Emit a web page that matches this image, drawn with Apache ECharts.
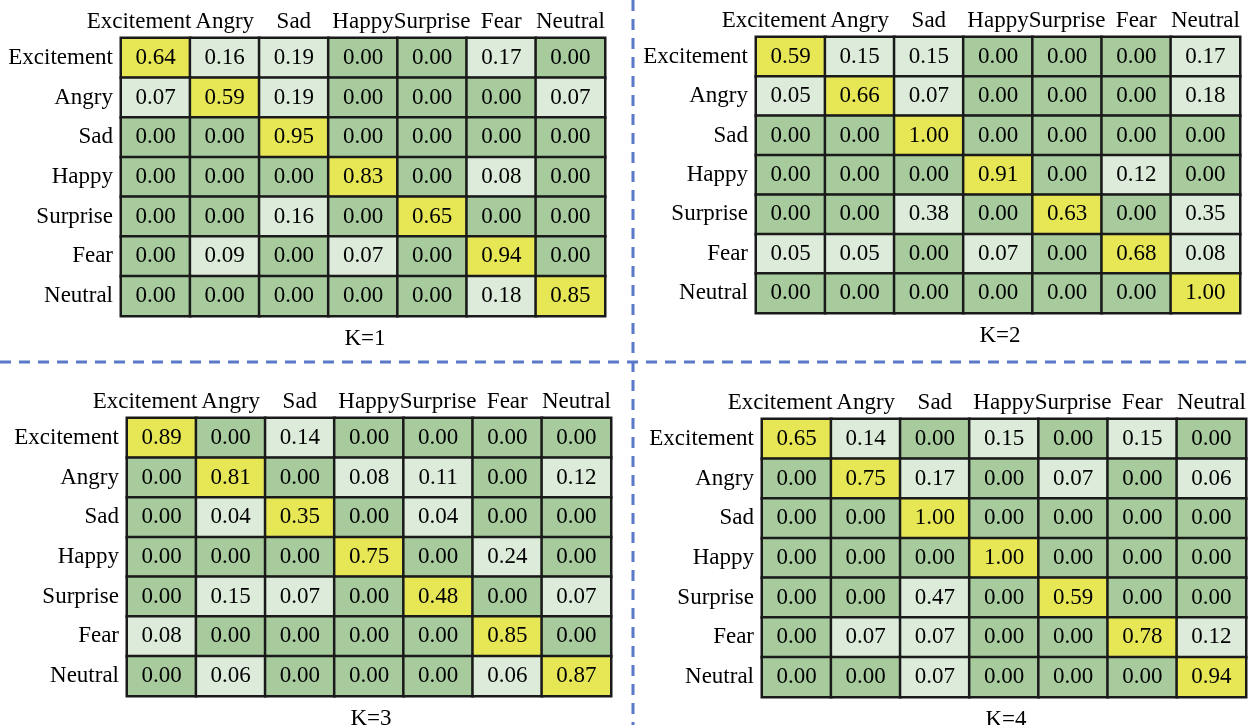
<!DOCTYPE html>
<html>
<head>
<meta charset="utf-8">
<script src="https://cdn.jsdelivr.net/npm/echarts@6/dist/echarts.min.js"></script>
<style>
html,body{margin:0;padding:0;background:#fff;}
#c{width:1251px;height:725px;}
</style>
</head>
<body>
<div id="c"></div>
<script>
const classes = ['Excitement','Angry','Sad','Happy','Surprise','Fear','Neutral'];
const panelTitles = ['K=1','K=2','K=3','K=4'];

const matrixK1 = [
  [0.64,0.16,0.19,0.00,0.00,0.17,0.00],
  [0.07,0.59,0.19,0.00,0.00,0.00,0.07],
  [0.00,0.00,0.95,0.00,0.00,0.00,0.00],
  [0.00,0.00,0.00,0.83,0.00,0.08,0.00],
  [0.00,0.00,0.16,0.00,0.65,0.00,0.00],
  [0.00,0.09,0.00,0.07,0.00,0.94,0.00],
  [0.00,0.00,0.00,0.00,0.00,0.18,0.85]
];
const matrixK2 = [
  [0.59,0.15,0.15,0.00,0.00,0.00,0.17],
  [0.05,0.66,0.07,0.00,0.00,0.00,0.18],
  [0.00,0.00,1.00,0.00,0.00,0.00,0.00],
  [0.00,0.00,0.00,0.91,0.00,0.12,0.00],
  [0.00,0.00,0.38,0.00,0.63,0.00,0.35],
  [0.05,0.05,0.00,0.07,0.00,0.68,0.08],
  [0.00,0.00,0.00,0.00,0.00,0.00,1.00]
];
const matrixK3 = [
  [0.89,0.00,0.14,0.00,0.00,0.00,0.00],
  [0.00,0.81,0.00,0.08,0.11,0.00,0.12],
  [0.00,0.04,0.35,0.00,0.04,0.00,0.00],
  [0.00,0.00,0.00,0.75,0.00,0.24,0.00],
  [0.00,0.15,0.07,0.00,0.48,0.00,0.07],
  [0.08,0.00,0.00,0.00,0.00,0.85,0.00],
  [0.00,0.06,0.00,0.00,0.00,0.06,0.87]
];
const matrixK4 = [
  [0.65,0.14,0.00,0.15,0.00,0.15,0.00],
  [0.00,0.75,0.17,0.00,0.07,0.00,0.06],
  [0.00,0.00,1.00,0.00,0.00,0.00,0.00],
  [0.00,0.00,0.00,1.00,0.00,0.00,0.00],
  [0.00,0.00,0.47,0.00,0.59,0.00,0.00],
  [0.00,0.07,0.07,0.00,0.00,0.78,0.12],
  [0.00,0.00,0.07,0.00,0.00,0.00,0.94]
];
const matrices = [matrixK1, matrixK2, matrixK3, matrixK4];

const FONT = '"Liberation Serif", "DejaVu Serif", serif';
const FS = 23;
const TXT = '#000';
const COL_DIAG = '#e7e756';
const COL_NONZERO = '#dcebda';
const COL_ZERO = '#a7cb9d';

const gridBoxes = [
  {left:121, top:38, width:484, height:278},
  {left:756, top:37, width:484, height:276},
  {left:127, top:418, width:484, height:278},
  {left:762, top:419, width:484, height:278}
];

const xAxisData = classes.map((c,i) => i === 0
  ? {value:c, textStyle:{padding:[0,33,0,0]}}
  : c);

const grids = [], xAxes = [], yAxes = [], series = [], titles = [];
matrices.forEach((m, k) => {
  const g = gridBoxes[k];
  grids.push({left:g.left, top:g.top, width:g.width, height:g.height, containLabel:false});
  xAxes.push({
    type:'category', gridIndex:k, position:'top', data:xAxisData,
    axisLine:{show:false}, axisTick:{show:false}, splitLine:{show:false},
    axisLabel:{interval:0, margin:5, fontFamily:FONT, fontSize:FS, color:TXT}
  });
  yAxes.push({
    type:'category', gridIndex:k, inverse:true, data:classes,
    axisLine:{show:false}, axisTick:{show:false}, splitLine:{show:false},
    axisLabel:{interval:0, margin:8, fontFamily:FONT, fontSize:FS, color:TXT}
  });
  const data = [];
  m.forEach((row, r) => row.forEach((v, c) => {
    const color = r === c ? COL_DIAG : (v > 0 ? COL_NONZERO : COL_ZERO);
    data.push({value:[c, r, v], itemStyle:{color:color}});
  }));
  series.push({
    type:'heatmap', xAxisIndex:k, yAxisIndex:k, data:data,
    itemStyle:{borderColor:'#1a1a1a', borderWidth:2.5},
    label:{show:true, fontFamily:FONT, fontSize:FS, color:TXT,
      formatter:p => p.value[2].toFixed(2)},
    emphasis:{disabled:true}, animation:false
  });
  titles.push({
    text:panelTitles[k], left:g.left + g.width/2 - 3, top:g.top + g.height + 6,
    textAlign:'center',
    textStyle:{fontFamily:FONT, fontSize:FS, fontWeight:'normal', color:TXT}
  });
});

const chart = echarts.init(document.getElementById('c'), null, {renderer:'canvas'});
chart.setOption({
  backgroundColor:'#fff',
  animation:false,
  title:titles,
  grid:grids, xAxis:xAxes, yAxis:yAxes, series:series,
  graphic:[
    {type:'line', shape:{x1:633, y1:0, x2:633, y2:725}, silent:true,
     style:{stroke:'#5b79c9', lineWidth:3, lineDash:[11,8]}},
    {type:'line', shape:{x1:0, y1:362, x2:1251, y2:362}, silent:true,
     style:{stroke:'#5b79c9', lineWidth:3, lineDash:[11,8]}}
  ]
});
</script>
</body>
</html>
